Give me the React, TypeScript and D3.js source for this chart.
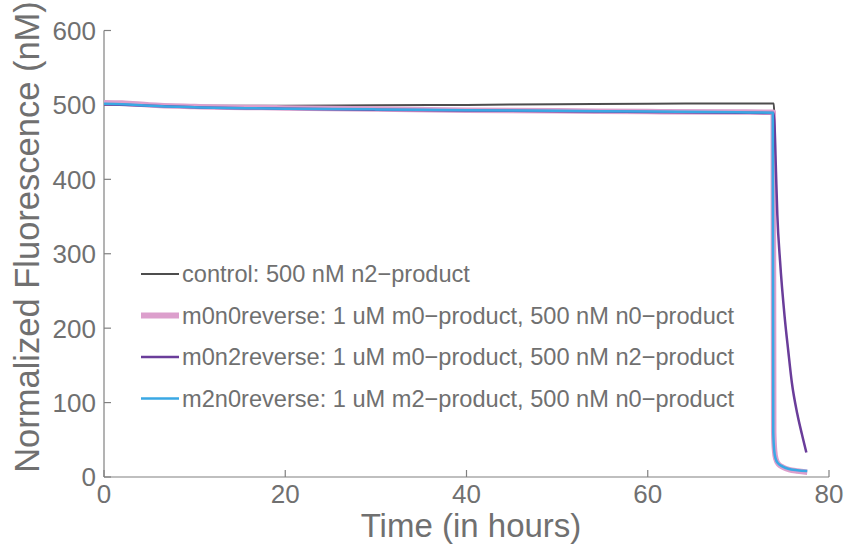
import React from "react";
import * as d3 from "d3";

const xTicks = [0, 20, 40, 60, 80];
const yTicks = [0, 100, 200, 300, 400, 500, 600];

const controlT = [0, 2, 5, 10, 15, 20, 30, 40, 50, 60, 70, 73.9, 73.95];
const controlV = [500, 500, 499.5, 499, 499, 499, 499.5, 500, 501, 501.5, 502, 502, 491];

const m0n0T = [0, 2, 5, 10, 20, 30, 40, 50, 60, 70, 73.85, 73.9, 74.0, 74.15, 74.45, 74.95, 75.6, 76.5, 77.6];
const m0n0V = [503, 502.5, 500, 498, 496, 494.5, 493, 492, 491, 490.5, 490, 60, 35, 24, 17, 13, 10, 8, 6.5];

const m0n2T = [0, 5, 10, 20, 30, 40, 50, 60, 70, 73.9, 74.0, 74.15, 74.3, 74.6, 75.1, 75.5, 75.9, 76.5, 77, 77.5];
const m0n2V = [501, 499, 497, 495, 493.5, 492.5, 491.5, 490.5, 489.5, 489, 470, 410, 352, 290, 216, 170, 127, 85, 58, 33];

const m2n0T = [0, 2, 5, 10, 20, 30, 40, 50, 60, 70, 73.8, 73.85, 73.95, 74.1, 74.4, 74.9, 75.5, 76.5, 77.6];
const m2n0V = [501.5, 501, 499, 497, 495, 494, 493, 492, 491, 490, 489.5, 60, 36, 25, 18, 14, 11, 9, 8];

const seriesNames = [
  "control: 500 nM n2\u2212product",
  "m0n0reverse: 1 uM m0\u2212product, 500 nM n0\u2212product",
  "m0n2reverse: 1 uM m0\u2212product, 500 nM n2\u2212product",
  "m2n0reverse: 1 uM m2\u2212product, 500 nM n0\u2212product",
];
const seriesColors = ["#4d4d4d", "#dc9fcc", "#6a3d9a", "#3aa8e4"];
const seriesWidths = [2, 5.5, 2.5, 2.5];
const legendWidths = [2.2, 6, 2.5, 2.5];

const W = 846;
const H = 544;
const x = d3.scaleLinear().domain([0, 80]).range([104, 829]);
const y = d3.scaleLinear().domain([0, 600]).range([477, 30.5]);

const textColor = "#707070";
const axisColor = "#808080";
const font = "'Liberation Sans', Arial, Helvetica, sans-serif";

export default function App() {
  const series = [
    { t: controlT, v: controlV },
    { t: m0n0T, v: m0n0V },
    { t: m0n2T, v: m0n2V },
    { t: m2n0T, v: m2n0V },
  ];
  const line = d3
    .line<[number, number]>()
    .x((d) => x(d[0]))
    .y((d) => y(d[1]))
    .curve(d3.curveMonotoneX);

  const legendY = [274, 315.5, 357, 398.5];

  return (
    <div style={{ position: "absolute", left: 0, top: 0 }}>
      <svg width={W} height={H} style={{ display: "block", background: "#fff" }} fontFamily={font}>
        {/* axes */}
        <line x1={x(0)} x2={x(80)} y1={y(0)} y2={y(0)} stroke={axisColor} strokeWidth={1.2} />
        <line x1={x(0)} x2={x(0)} y1={y(0)} y2={y(600)} stroke={axisColor} strokeWidth={1.2} />
        {xTicks.map((t) => (
          <g key={"xt" + t}>
            <line x1={x(t)} x2={x(t)} y1={y(0)} y2={y(0) - 7} stroke={axisColor} strokeWidth={1.2} />
            <text x={x(t)} y={503} textAnchor="middle" fontSize={26} fill={textColor}>
              {t}
            </text>
          </g>
        ))}
        {yTicks.map((t) => (
          <g key={"yt" + t}>
            <line x1={x(0)} x2={x(0) + 7} y1={y(t)} y2={y(t)} stroke={axisColor} strokeWidth={1.2} />
            <text x={96} y={y(t)} dy="0.36em" textAnchor="end" fontSize={26} fill={textColor}>
              {t}
            </text>
          </g>
        ))}
        <text x={471} y={537} textAnchor="middle" fontSize={33} fill={textColor}>
          Time (in hours)
        </text>
        <text
          transform={`translate(39,237) rotate(-90)`}
          textAnchor="middle"
          fontSize={34.5}
          fill={textColor}
        >
          Normalized Fluorescence (nM)
        </text>

        {/* data */}
        {series.map((s, i) => {
          const pts: [number, number][] = s.t.map((tt, j) => [tt, s.v[j]]);
          return (
            <path
              key={"s" + i}
              d={line(pts) || ""}
              fill="none"
              stroke={seriesColors[i]}
              strokeWidth={seriesWidths[i]}
              strokeLinejoin="round"
            />
          );
        })}

        {/* legend */}
        {seriesNames.map((n, i) => (
          <g key={"lg" + i}>
            <line x1={141} x2={179} y1={legendY[i]} y2={legendY[i]} stroke={seriesColors[i]} strokeWidth={legendWidths[i]} />
            <text x={182} y={legendY[i]} dy="0.36em" fontSize={23.6} fill={textColor}>
              {n}
            </text>
          </g>
        ))}
      </svg>
    </div>
  );
}
